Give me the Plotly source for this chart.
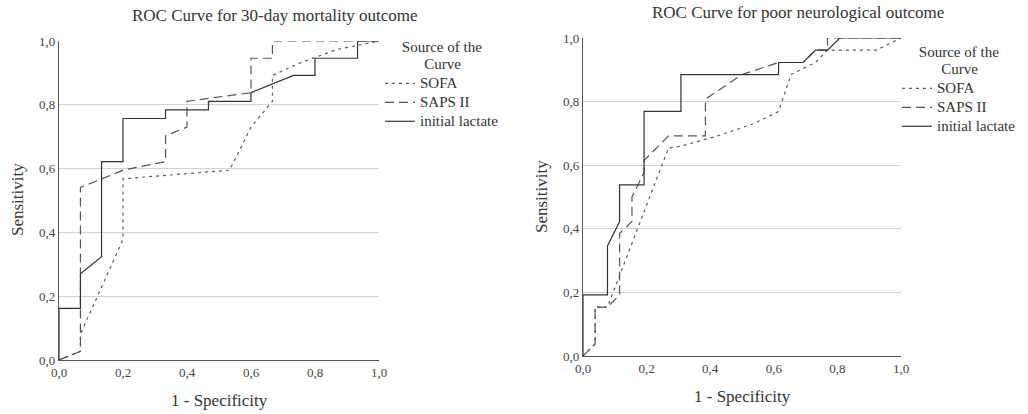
import plotly.graph_objects as go

# ---- ROC curve coordinates: 30-day mortality outcome ----
lac_mort_fpr = [0, 0, 0.067, 0.067, 0.133, 0.133, 0.2, 0.2, 0.333, 0.333, 0.467, 0.467,
                0.6, 0.6, 0.733, 0.8, 0.8, 0.933, 0.933, 1.0]
lac_mort_tpr = [0, 0.162, 0.162, 0.270, 0.324, 0.622, 0.622, 0.757, 0.757, 0.784, 0.784, 0.811,
                0.811, 0.838, 0.892, 0.892, 0.946, 0.946, 1.0, 1.0]

saps_mort_fpr = [0, 0.067, 0.067, 0.2, 0.333, 0.333, 0.4, 0.4, 0.6, 0.6, 0.667, 0.667, 1.0]
saps_mort_tpr = [0, 0.027, 0.541, 0.595, 0.622, 0.703, 0.730, 0.811, 0.838, 0.946, 0.946, 1.0, 1.0]

sofa_mort_fpr = [0, 0.067, 0.067, 0.2, 0.2, 0.533, 0.6, 0.667, 0.667, 0.75, 0.867, 1.0]
sofa_mort_tpr = [0, 0.027, 0.081, 0.378, 0.568, 0.595, 0.730, 0.811, 0.892, 0.93, 0.973, 1.0]

# ---- ROC curve coordinates: poor neurological outcome ----
lac_neuro_fpr = [0, 0, 0.077, 0.077, 0.115, 0.115, 0.192, 0.192, 0.308, 0.308, 0.615, 0.615,
                 0.692, 0.731, 0.769, 0.808, 1.0]
lac_neuro_tpr = [0, 0.192, 0.192, 0.346, 0.423, 0.538, 0.538, 0.769, 0.769, 0.885, 0.885, 0.923,
                 0.923, 0.962, 0.962, 1.0, 1.0]

saps_neuro_fpr = [0, 0.038, 0.038, 0.077, 0.115, 0.115, 0.154, 0.154, 0.192, 0.192, 0.269, 0.385,
                  0.385, 0.5, 0.615, 0.692, 0.731, 0.769, 0.769, 1.0]
saps_neuro_tpr = [0, 0.038, 0.154, 0.154, 0.192, 0.385, 0.423, 0.5, 0.577, 0.615, 0.692, 0.692,
                  0.808, 0.885, 0.923, 0.923, 0.962, 0.962, 1.0, 1.0]

sofa_neuro_fpr = [0, 0.038, 0.038, 0.077, 0.269, 0.308, 0.423, 0.538, 0.615, 0.654, 0.731, 0.769,
                  0.923, 1.0]
sofa_neuro_tpr = [0, 0.038, 0.154, 0.154, 0.654, 0.66, 0.692, 0.731, 0.769, 0.885, 0.923, 0.962,
                  0.962, 1.0]

tick_vals = [0, 0.2, 0.4, 0.6, 0.8, 1.0]
series_names = ["SOFA", "SAPS II", "initial lactate"]
legend_heading = "Source of the<br>" + "&nbsp;" * 6 + "Curve"

FONT = "Liberation Serif"
W, H = 1028, 414
TEXT_COLOR = "#333333"

styles = {
    "SOFA": dict(color="#5a5a5a", width=1.2, dash="3px,4px"),
    "SAPS II": dict(color="#555555", width=1.2, dash="9px,5px"),
    "initial lactate": dict(color="#333333", width=1.2, dash="solid"),
}


def big(text):
    # legend rows are spaced by the small legend font; the label itself is drawn larger
    return '<span style="font-size:15px">' + text + "</span>"


fig = go.Figure()

panels = [
    ("x", "y", "legend", [(sofa_mort_fpr, sofa_mort_tpr), (saps_mort_fpr, saps_mort_tpr),
                          (lac_mort_fpr, lac_mort_tpr)]),
    ("x2", "y2", "legend2", [(sofa_neuro_fpr, sofa_neuro_tpr), (saps_neuro_fpr, saps_neuro_tpr),
                             (lac_neuro_fpr, lac_neuro_tpr)]),
]
for xa, ya, leg, curves in panels:
    for name, (fx, ty) in zip(series_names, curves):
        fig.add_trace(go.Scatter(x=fx, y=ty, mode="lines", name=big(name), line=styles[name],
                                 xaxis=xa, yaxis=ya, legend=leg, hoverinfo="skip"))


def px_x(p):
    return p / W


def px_y(p):
    return 1 - p / H


axis_common = dict(range=[0, 1], tickvals=tick_vals, tickformat=".1f", ticks="",
                   showline=True, linecolor="#555555", linewidth=1.2, zeroline=False,
                   automargin=False,
                   tickfont=dict(family=FONT, size=13, color="#444444"), fixedrange=True)


def legend_box(x_px, y_px):
    return dict(x=px_x(x_px), y=px_y(y_px), xanchor="left", yanchor="top",
                bgcolor="rgba(0,0,0,0)", itemwidth=30, tracegroupgap=0,
                font=dict(family=FONT, size=12, color=TEXT_COLOR),
                title=dict(text=big(legend_heading), side="top center",
                           font=dict(family=FONT, size=13, color=TEXT_COLOR)))


fig.update_layout(
    width=W, height=H,
    margin=dict(l=0, r=0, t=0, b=0, autoexpand=False),
    paper_bgcolor="white", plot_bgcolor="white",
    separators=",.",
    font=dict(family=FONT, color=TEXT_COLOR),
    xaxis=dict(domain=[px_x(59), px_x(379)], anchor="y", showgrid=False, **axis_common),
    yaxis=dict(domain=[px_y(360), px_y(41)], anchor="x", showgrid=True, gridcolor="#d2d2d2",
               gridwidth=1, **axis_common),
    xaxis2=dict(domain=[px_x(583), px_x(901)], anchor="y2", showgrid=False, **axis_common),
    yaxis2=dict(domain=[px_y(356), px_y(38)], anchor="x2", showgrid=True, gridcolor="#d2d2d2",
                gridwidth=1, **axis_common),
    legend=legend_box(380, 35),
    legend2=legend_box(897, 40),
)

text_font = dict(family=FONT, size=17, color=TEXT_COLOR)
annotations = [
    dict(text="ROC Curve for 30-day mortality outcome", x=px_x(275), y=px_y(16)),
    dict(text="ROC Curve for poor neurological outcome", x=px_x(798), y=px_y(12)),
    dict(text="1 - Specificity", x=px_x(219), y=px_y(400)),
    dict(text="1 - Specificity", x=px_x(742), y=px_y(396)),
    dict(text="Sensitivity", x=px_x(18), y=px_y(200), textangle=-90),
    dict(text="Sensitivity", x=px_x(541), y=px_y(197), textangle=-90),
]
for a in annotations:
    fig.add_annotation(xref="paper", yref="paper", showarrow=False, xanchor="center",
                       yanchor="middle", font=text_font, **a)

fig.write_html("out.html")
